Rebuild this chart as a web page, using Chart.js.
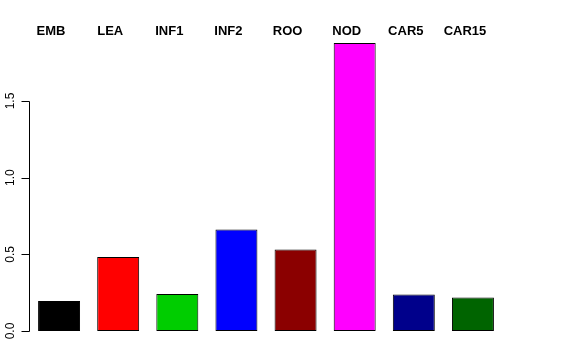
<!DOCTYPE html>
<html>
<head>
<meta charset="utf-8">
<script src="https://cdn.jsdelivr.net/npm/chart.js@4"></script>
<style>
html,body{margin:0;padding:0;background:#fff;}
#wrap{width:576px;height:360px;}
</style>
</head>
<body>
<div id="wrap"><canvas id="c" width="576" height="360"></canvas></div>
<script>
const categories = ["EMB","LEA","INF1","INF2","ROO","NOD","CAR5","CAR15"];
const values = [0.195, 0.483, 0.241, 0.662, 0.532, 1.879, 0.238, 0.219];
const barColors = ["#000000","#FF0000","#00CD00","#0000FF","#8B0000","#FF00FF","#00008B","#006400"];
const yTicks = [0, 0.5, 1.0, 1.5];
const yTickLabels = ["0.0","0.5","1.0","1.5"];

const rAxis = {
  id: 'rAxis',
  afterDraw(chart) {
    const ctx = chart.ctx;
    const y = chart.scales.y;
    const x0 = chart.chartArea.left;
    ctx.save();
    ctx.strokeStyle = '#000';
    ctx.lineWidth = 1;
    ctx.beginPath();
    const pTop = Math.round(y.getPixelForValue(yTicks[yTicks.length-1])) + 0.5;
    const pBot = Math.round(y.getPixelForValue(yTicks[0])) + 0.5;
    ctx.moveTo(x0, pTop); ctx.lineTo(x0, pBot);
    yTicks.forEach(v => {
      const p = Math.round(y.getPixelForValue(v)) + 0.5;
      ctx.moveTo(x0 - 8, p); ctx.lineTo(x0, p);
    });
    ctx.stroke();
    ctx.fillStyle = '#000';
    ctx.font = '12px "Liberation Sans", Arial, sans-serif';
    ctx.textAlign = 'center';
    ctx.textBaseline = 'middle';
    yTicks.forEach((v, i) => {
      const p = y.getPixelForValue(v);
      ctx.save();
      ctx.translate(11, p);
      ctx.rotate(-Math.PI/2);
      ctx.fillText(yTickLabels[i], 0, 0);
      ctx.restore();
    });
    ctx.restore();
  }
};

new Chart(document.getElementById('c'), {
  type: 'bar',
  data: {
    labels: categories,
    datasets: [{
      data: values,
      backgroundColor: barColors,
      borderColor: '#000',
      borderWidth: 1,
      borderSkipped: false,
      categoryPercentage: 1.0,
      barPercentage: 0.71
    }]
  },
  options: {
    responsive: false,
    animation: false,
    devicePixelRatio: 1,
    layout: { padding: { left: 0, right: 73.5, top: 0, bottom: 29 } },
    plugins: { legend: { display: false }, tooltip: { enabled: false } },
    scales: {
      x: {
        position: 'top',
        grid: { display: false },
        border: { display: false },
        ticks: {
          color: '#000',
          font: { family: '"Liberation Sans", Arial, sans-serif', size: 13, weight: 'bold' },
          labelOffset: -8,
          padding: -7,
          maxRotation: 0
        },
        afterFit(s) { s.height = 40; }
      },
      y: {
        min: 0,
        max: 1.898,
        grid: { display: false },
        border: { display: false },
        ticks: { display: false },
        afterBuildTicks(s) { s.ticks = yTicks.map(v => ({ value: v })); },
        afterFit(s) { s.width = 29.5; }
      }
    }
  },
  plugins: [rAxis]
});
</script>
</body>
</html>
